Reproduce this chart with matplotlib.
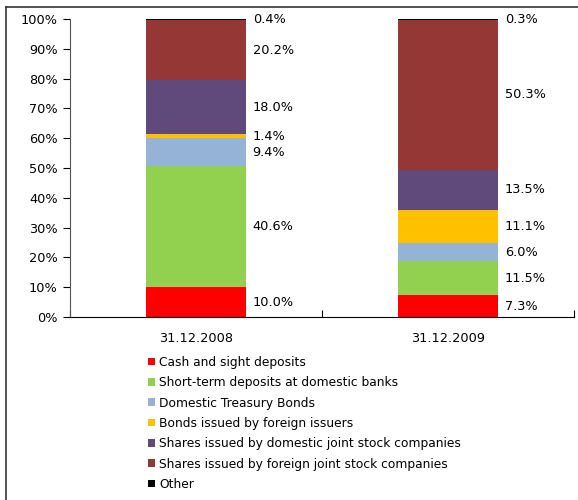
import numpy as np
import matplotlib
matplotlib.use('Agg')
import matplotlib.pyplot as plt
from matplotlib.lines import Line2D
from matplotlib.patches import Patch

dates = ['31.12.2008', '31.12.2009']
series = ['Cash and sight deposits',
          'Short-term deposits at domestic banks',
          'Domestic Treasury Bonds',
          'Bonds issued by foreign issuers',
          'Shares issued by domestic joint stock companies',
          'Shares issued by foreign joint stock companies',
          'Other']
share_2008 = [10.0, 40.6, 9.4, 1.4, 18.0, 20.2, 0.4]
share_2009 = [7.3, 11.5, 6.0, 11.1, 13.5, 50.3, 0.3]
colors = ['#FF0000', '#92D050', '#95B3D7', '#FFC000', '#604A7B', '#953735', '#000000']

plt.rcParams['font.family'] = 'DejaVu Sans'
plt.rcParams['font.size'] = 8.5

W, H = 578, 500
fig = plt.figure(figsize=(W / 100, H / 100), dpi=100)
ax = fig.add_axes([70 / W, (H - 317) / H, 504 / W, 298 / H])

data = np.array([share_2008, share_2009])
x = np.arange(len(dates))
bottom = np.zeros(len(dates))
for j, name in enumerate(series):
    vals = data[:, j]
    ax.bar(x, vals, 0.4, bottom=bottom, color=colors[j], label=name, zorder=2)
    for i in range(len(dates)):
        ax.text(x[i] + 0.225, bottom[i] + vals[i] / 2, f'{vals[i]:.1f}%',
                va='center', ha='left', fontsize=9.3)
    bottom += vals

ax.set_xlim(-0.5, 1.5)
ax.set_ylim(0, 100)
ax.set_yticks(np.arange(0, 101, 10))
ax.set_yticklabels([f'{v}%' for v in range(0, 101, 10)], fontsize=9.3)
ax.set_xticks([-0.5, 0.5, 1.5])
ax.set_xticklabels([])
ax.set_xticks(x, minor=True)
ax.set_xticklabels(dates, minor=True, fontsize=9.3)
ax.tick_params(axis='x', which='minor', length=0, pad=11)
ax.tick_params(axis='x', which='major', length=5, direction='in')
ax.tick_params(axis='y', length=5, direction='out', pad=4)
for s in ['top', 'right']:
    ax.spines[s].set_visible(False)
ax.spines['left'].set_color('#555555')
ax.spines['bottom'].set_color('black')

handles = [Patch(facecolor=c, edgecolor='none') for c in colors]
fig.legend(handles, series, loc='upper left', bbox_to_anchor=(143 / W, 1 - 351 / H),
           frameon=False, handlelength=0.6, handleheight=0.6, handletextpad=0.3,
           labelspacing=0.6, fontsize=8.8, borderaxespad=0)

# partial border on the left and top
fig.add_artist(Line2D([5.5 / W, 5.5 / W], [0, 1 - 7 / H], color='#333333', lw=1.2))
fig.add_artist(Line2D([5.5 / W, 1], [1 - 7 / H, 1 - 7 / H], color='#333333', lw=1.2))

fig.savefig('out.png', dpi=100)
